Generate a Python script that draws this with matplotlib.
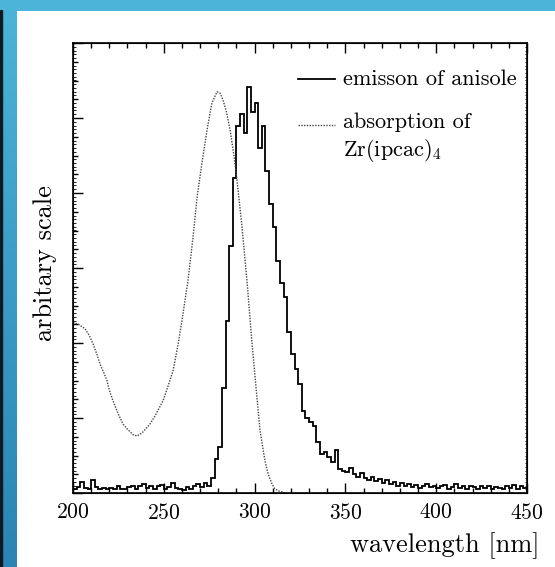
import numpy as np
import matplotlib
matplotlib.use("Agg")
import matplotlib.pyplot as plt
from matplotlib.colors import LinearSegmentedColormap
from matplotlib.lines import Line2D
from matplotlib.ticker import MultipleLocator, NullFormatter

plt.rcParams["font.family"] = ["cmr10", "DejaVu Serif"]
plt.rcParams["mathtext.fontset"] = "cm"
plt.rcParams["axes.formatter.use_mathtext"] = True

# emission of anisole: 2 nm bins from 200 to 450 nm
em_edges = np.arange(200, 452, 2)
em_counts = [
    0.06, 0.08, 0.15, 0.07, 0.06, 0.17, 0.08, 0.06, 0.07, 0.05,
    0.07, 0.06, 0.09, 0.06, 0.05, 0.08, 0.10, 0.06, 0.09, 0.12,
    0.07, 0.10, 0.06, 0.09, 0.11, 0.06, 0.08, 0.13, 0.07, 0.05,
    0.04, 0.08, 0.06, 0.09, 0.12, 0.08, 0.13, 0.10, 0.20, 0.45,
    0.62, 1.40, 2.30, 3.30, 4.20, 4.90, 5.05, 4.80, 5.41, 5.08,
    5.20, 4.60, 4.90, 4.30, 3.85, 3.55, 3.10, 2.80, 2.62, 2.15,
    1.85, 1.65, 1.45, 1.10, 1.00, 0.95, 0.90, 0.68, 0.52, 0.55,
    0.48, 0.42, 0.58, 0.32, 0.30, 0.28, 0.33, 0.26, 0.22, 0.27,
    0.20, 0.18, 0.22, 0.16, 0.19, 0.14, 0.17, 0.12, 0.15, 0.10,
    0.13, 0.09, 0.12, 0.08, 0.11, 0.07, 0.10, 0.12, 0.08, 0.10,
    0.07, 0.09, 0.11, 0.06, 0.08, 0.12, 0.07, 0.09, 0.06, 0.10,
    0.08, 0.06, 0.09, 0.07, 0.10, 0.06, 0.08, 0.07, 0.05, 0.09,
    0.07, 0.11, 0.06, 0.09, 0.07,
]

# absorption of Zr(ipcac)4
abs_wl = [200.0, 203.0, 206.6, 209.0, 211.0, 213.0, 214.9, 217.0, 218.7, 220.0,
          222.0, 225.0, 227.5, 230.0, 233.0, 235.2, 238.0, 242.4, 245.0, 249.6,
          252.0, 255.1, 258.0, 260.0, 263.3, 266.1, 268.3, 271.0, 273.8, 276.5,
          279.3, 281.0, 282.6, 284.5, 286.5, 288.5, 290.3, 293.1, 295.8, 298.6,
          301.3, 303.0, 305.7, 307.5, 309.6, 311.0, 312.9, 316.8]
abs_val = [2.27, 2.25, 2.19, 2.10, 1.99, 1.86, 1.72, 1.60, 1.50, 1.37,
           1.23, 1.05, 0.92, 0.85, 0.78, 0.76, 0.80, 0.92, 1.02, 1.23,
           1.40, 1.63, 2.00, 2.30, 2.83, 3.41, 3.94, 4.40, 4.84, 5.20,
           5.35, 5.33, 5.24, 5.08, 4.84, 4.52, 4.17, 3.54, 2.83, 1.99,
           1.27, 0.83, 0.43, 0.25, 0.12, 0.06, 0.03, 0.0]

fig = plt.figure(figsize=(5.55, 5.67), dpi=100)
fig.patch.set_facecolor("white")

# blue frame: top strip and left gradient strip
top = fig.add_axes([0, 1 - 11 / 567, 1, 11 / 567])
top.set_facecolor("#4bb4d8")
top.set_xticks([]); top.set_yticks([])
for s in top.spines.values():
    s.set_visible(False)
side = fig.add_axes([0, 0, 17 / 555, 1 - 10 / 567])
grad = LinearSegmentedColormap.from_list("side", ["#2a84b5", "#4bb4d8"])
side.imshow(np.linspace(0, 1, 256).reshape(-1, 1), cmap=grad, aspect="auto",
            origin="lower", extent=[0, 1, 0, 1])
side.axvspan(0, 2 / 17, color="#0d1a22")
side.set_xlim(0, 1); side.set_ylim(0, 1)
side.set_xticks([]); side.set_yticks([])
for s in side.spines.values():
    s.set_visible(False)

ax = fig.add_axes([73 / 555, 1 - 493 / 567, 454 / 555, 450 / 567])
ax.stairs(em_counts, em_edges, color="black", lw=1.3)
ax.plot(abs_wl, abs_val, color="#444444", lw=1.0, ls=(0, (1, 1)))

ax.set_xlim(200, 450)
ax.set_ylim(0, 6)
ax.xaxis.set_major_locator(MultipleLocator(50))
ax.xaxis.set_minor_locator(MultipleLocator(10))
ax.yaxis.set_major_locator(MultipleLocator(1))
ax.yaxis.set_minor_locator(MultipleLocator(0.25))
ax.yaxis.set_major_formatter(NullFormatter())
ax.tick_params(which="both", direction="in", top=True, right=True, width=1.0)
ax.tick_params(which="major", length=7)
ax.tick_params(which="minor", length=3.5)
ax.tick_params(axis="x", labelsize=15.5, pad=7)
for s in ax.spines.values():
    s.set_linewidth(1.2)

# fine ticks along the y axes
fine = ax.twinx()
fine.set_ylim(0, 6)
fine.yaxis.set_major_locator(MultipleLocator(0.05))
fine.yaxis.set_major_formatter(NullFormatter())
fine.tick_params(direction="in", left=True, right=True, length=1.8, width=0.6)

# legend drawn by hand
ax.add_line(Line2D([0.4956, 0.577], [0.92, 0.92], transform=ax.transAxes,
                   color="black", lw=1.3))
ax.text(0.595, 0.92, "emisson of anisole", transform=ax.transAxes,
        fontsize=16, va="center", ha="left")
ax.add_line(Line2D([0.4956, 0.577], [0.818, 0.818], transform=ax.transAxes,
                   color="#444444", lw=1.0, ls=(0, (1, 1))))
ax.text(0.595, 0.825, "absorption of", transform=ax.transAxes,
        fontsize=16, va="center", ha="left")
ax.text(0.595, 0.762, r"Zr(ipcac)$_{4}$", transform=ax.transAxes,
        fontsize=16, va="center", ha="left")

fig.text(540 / 555, 1 - 546 / 567, "wavelength [nm]", fontsize=19,
         ha="right", va="center")
fig.text(45 / 555, 1 - 263 / 567, "arbitary scale", fontsize=19,
         rotation=90, ha="center", va="center")

fig.savefig("out.png", dpi=100)
